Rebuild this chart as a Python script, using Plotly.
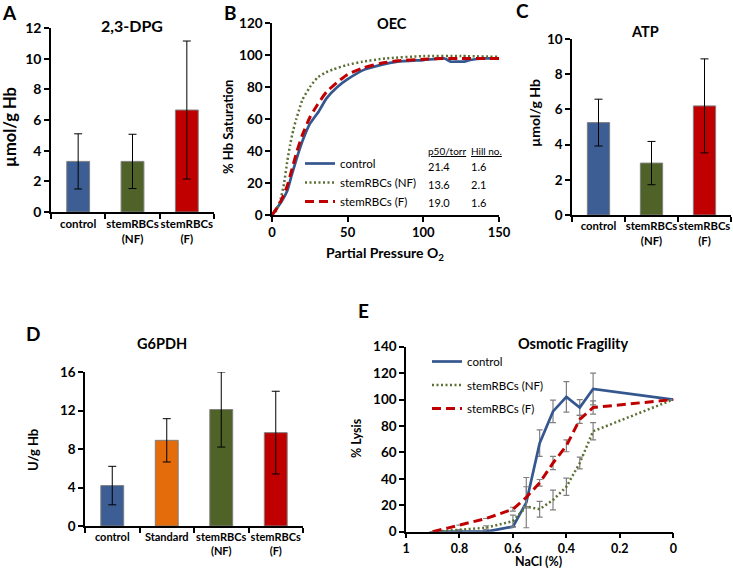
import plotly.graph_objects as go

# ---------------- data ----------------
# Panel A: 2,3-DPG
dpg_categories = ["control", "stemRBCs<br>(NF)", "stemRBCs<br>(F)"]
dpg_values = [3.3, 3.3, 6.65]
dpg_errors = [1.8, 1.77, 4.5]

# Panel B: OEC
oec_p_control = [0, 3, 6, 10, 13, 16.5, 20, 25, 31, 36, 43, 50, 61, 72, 83, 100, 114, 118, 122, 127, 131, 140, 150]
oec_sat_control = [0, 4, 8, 15, 25, 36, 46, 57, 65, 73, 80, 85, 91, 94, 96, 97, 98, 96, 96, 96, 97, 98, 98]
oec_p_nf = [0, 3, 6, 8, 10, 12, 14, 16, 18, 20, 25, 30, 35, 40, 50, 60, 75, 100, 125, 150]
oec_sat_nf = [0, 3, 11, 20, 33, 44, 53, 60, 66, 72, 80, 86, 89, 91, 94, 96, 98, 99.5, 99.5, 99]
oec_p_f = [0, 3, 6, 10, 13, 16.5, 20, 25, 30, 36, 43, 50, 60, 72, 83, 100, 114, 125, 150]
oec_sat_f = [0, 4, 9, 18, 28, 40, 50, 61, 69, 77, 83, 88, 92, 95, 96.5, 97.5, 98, 98, 98]
oec_p50 = ["21.4", "13.6", "19.0"]
oec_hill = ["1.6", "2.1", "1.6"]

# Panel C: ATP
atp_categories = ["control", "stemRBCs<br>(NF)", "stemRBCs<br>(F)"]
atp_values = [5.25, 2.95, 6.2]
atp_errors = [1.33, 1.23, 2.67]

# Panel D: G6PDH
g6pd_categories = ["control", "Standard", "stemRBCs<br>(NF)", "stemRBCs<br>(F)"]
g6pd_values = [4.2, 8.9, 12.1, 9.7]
g6pd_errors = [2.0, 2.25, 3.9, 4.3]

# Panel E: Osmotic fragility
nacl = [0.9, 0.8, 0.7, 0.6, 0.55, 0.5, 0.45, 0.4, 0.35, 0.3, 0]
lysis_control = [0, 0, 0, 3.8, 22, 67, 91, 102, 94, 108, 100]
lysis_control_err = [None, None, None, None, 19, 10, 8.5, 11.5, 6, 12, None]
lysis_nf = [0, 1.5, 3, 8, 19, 17, 24, 34, 52, 76, 100]
lysis_nf_err = [None, None, 1.5, 4.5, None, 6, 7.5, 6.5, 4.5, 6.5, None]
lysis_f = [0, 5, 10, 17, 26, 37, 52, 65, 85, 94, 100]
lysis_f_err = [None, None, None, 1.5, 8, 2.5, 5, 4.5, 3, 5, None]

series_names = ["control", "stemRBCs (NF)", "stemRBCs (F)"]

# ---------------- style ----------------
FONT = "Lato"
BLUE_BAR = "#3D5E94"
GREEN_BAR = "#4F6228"
RED_BAR = "#C00000"
ORANGE_BAR = "#E46C0A"
BLUE_LINE = "#34578F"
GREEN_LINE = "#5C7035"
RED_LINE = "#C00000"
W, H = 733, 570


def px_x(x):
    return x / W


def px_y(y):
    return 1 - y / H


fig = go.Figure()


def add_bars(cats, vals, errs, colors, xa, ya):
    fig.add_trace(go.Bar(
        x=cats, y=vals, width=0.42,
        marker=dict(color=colors, line=dict(color="#7F7F7F", width=1)),
        error_y=dict(type="data", array=errs, color="black", thickness=1, width=4),
        xaxis=xa, yaxis=ya, showlegend=False, hoverinfo="x+y"))


add_bars(dpg_categories, dpg_values, dpg_errors, [BLUE_BAR, GREEN_BAR, RED_BAR], "x", "y")
add_bars(atp_categories, atp_values, atp_errors, [BLUE_BAR, GREEN_BAR, RED_BAR], "x3", "y3")
add_bars(g6pd_categories, g6pd_values, g6pd_errors, [BLUE_BAR, ORANGE_BAR, GREEN_BAR, RED_BAR], "x4", "y4")

# OEC lines
oec_sets = [
    (oec_p_control, oec_sat_control, dict(color=BLUE_LINE, width=2.7)),
    (oec_p_nf, oec_sat_nf, dict(color=GREEN_LINE, width=2.5, dash="2px,2.5px")),
    (oec_p_f, oec_sat_f, dict(color=RED_LINE, width=3, dash="9px,5px")),
]
for i, (name, (xs, ys, ln)) in enumerate(zip(series_names, oec_sets)):
    fig.add_trace(go.Scatter(x=xs, y=ys, mode="lines", name=name,
                             line=dict(shape="spline", smoothing=0.5, **ln),
                             xaxis="x2", yaxis="y2", legend="legend",
                             legendgroup="oec%d" % i))

# Osmotic fragility lines
of_sets = [
    (lysis_control, lysis_control_err, dict(color=BLUE_LINE, width=2.7)),
    (lysis_nf, lysis_nf_err, dict(color=GREEN_LINE, width=2.5, dash="2px,2.5px")),
    (lysis_f, lysis_f_err, dict(color=RED_LINE, width=3, dash="9px,5px")),
]
for i, (name, (ys, es, ln)) in enumerate(zip(series_names, of_sets)):
    fig.add_trace(go.Scatter(x=nacl, y=ys, mode="lines", name=name, line=ln,
                             error_y=dict(type="data", array=es, color="#808080",
                                          thickness=1.2, width=3),
                             xaxis="x5", yaxis="y5", legend="legend2",
                             legendgroup="of%d" % i))


def tf(size):
    return dict(family=FONT, size=size, color="black", weight="bold")


axis_common = dict(showline=True, linecolor="black", linewidth=1.5, ticks="outside",
                   ticklen=5, tickwidth=1.5, tickcolor="black", showgrid=False,
                   zeroline=False, automargin=False, fixedrange=True)
cat_common = dict(type="category", tickson="boundaries", tickangle=0)

layout_axes = dict(
    xaxis=dict(domain=[px_x(51), px_x(214)], anchor="y", tickfont=tf(11.5),
               **cat_common, **axis_common),
    yaxis=dict(domain=[px_y(212), px_y(28)], anchor="x", range=[0, 12], dtick=2,
               tickfont=tf(14), **axis_common),
    xaxis2=dict(domain=[px_x(272), px_x(499)], anchor="y2", range=[0, 150], dtick=50,
                tickfont=tf(13), **axis_common),
    yaxis2=dict(domain=[px_y(215), px_y(23.3)], anchor="x2", range=[0, 120], dtick=20,
                tickfont=tf(13.5), **axis_common),
    xaxis3=dict(domain=[px_x(572), px_x(731)], anchor="y3", tickfont=tf(11.3),
                **cat_common, **axis_common),
    yaxis3=dict(domain=[px_y(215), px_y(39)], anchor="x3", range=[0, 10], dtick=2,
                tickfont=tf(13.5), **axis_common),
    xaxis4=dict(domain=[px_x(85), px_x(303)], anchor="y4", tickfont=tf(11),
                **cat_common, **axis_common),
    yaxis4=dict(domain=[px_y(526), px_y(372)], anchor="x4", range=[0, 16], dtick=4,
                tickfont=tf(13.5), **axis_common),
    xaxis5=dict(domain=[px_x(406), px_x(673.3)], anchor="y5", range=[1, 0], dtick=0.2,
                tickfont=tf(12.5), **axis_common),
    yaxis5=dict(domain=[px_y(531.7), px_y(346.7)], anchor="x5", range=[0, 140], dtick=20,
                tickfont=tf(13.5), **axis_common),
)

annotations = []


def ann(text, x, y, size=12, bold=True, angle=0, xanchor="center", yanchor="middle"):
    annotations.append(dict(
        text=text, x=px_x(x), y=px_y(y), xref="paper", yref="paper",
        showarrow=False, textangle=angle, xanchor=xanchor, yanchor=yanchor,
        font=dict(family=FONT, size=size, color="black",
                  weight="bold" if bold else "normal")))


# panel letters
for letter, x, y in [("A", 9, 13), ("B", 230, 13), ("C", 522, 10), ("D", 32.5, 333), ("E", 363, 310)]:
    ann(letter, x, y, size=19)

# titles
ann("2,3-DPG", 132, 25, size=16)
ann("OEC", 392, 23.5, size=14.5)
ann("ATP", 645, 32, size=14.5)
ann("G6PDH", 162, 343, size=14.5)
ann("Osmotic Fragility", 573, 343, size=14.5)

# axis titles
ann("µmol/g Hb", 10, 127, size=16.5, angle=-90)
ann("% Hb Saturation", 228, 127, size=13, angle=-90)
ann("µmol/g Hb", 535, 113, size=14, angle=-90)
ann("U/g Hb", 33, 450, size=13, angle=-90)
ann("% Lysis", 357, 438, size=12.5, angle=-90)
ann("Partial Pressure O<sub>2</sub>", 385, 253, size=14)
ann("NaCl (%)", 538, 561, size=12.5)

# OEC table
ann("<u>p50/torr</u>", 426, 151, size=10, bold=False, xanchor="left")
ann("<u>Hill no.</u>", 469, 151, size=10, bold=False, xanchor="left")
for v, h, yy in zip(oec_p50, oec_hill, [166, 184, 202]):
    ann(v, 426, yy, size=11, bold=False, xanchor="left")
    ann(h, 469, yy, size=11, bold=False, xanchor="left")

legend_font = dict(family=FONT, size=11.5, color="black")
fig.update_layout(
    width=W, height=H,
    margin=dict(l=0, r=0, t=0, b=0),
    paper_bgcolor="white", plot_bgcolor="white",
    bargap=0.58,
    annotations=annotations,
    legend=dict(x=px_x(300), y=px_y(149), xanchor="left", yanchor="top",
                bgcolor="rgba(0,0,0,0)", font=legend_font, tracegroupgap=0),
    legend2=dict(x=px_x(427), y=px_y(347), xanchor="left", yanchor="top",
                 bgcolor="rgba(0,0,0,0)", font=legend_font, tracegroupgap=4.5),
    **layout_axes,
)

fig.write_html("out.html", config={"displayModeBar": False},
               post_script="document.body.style.margin='0';document.body.style.overflow='hidden';")
